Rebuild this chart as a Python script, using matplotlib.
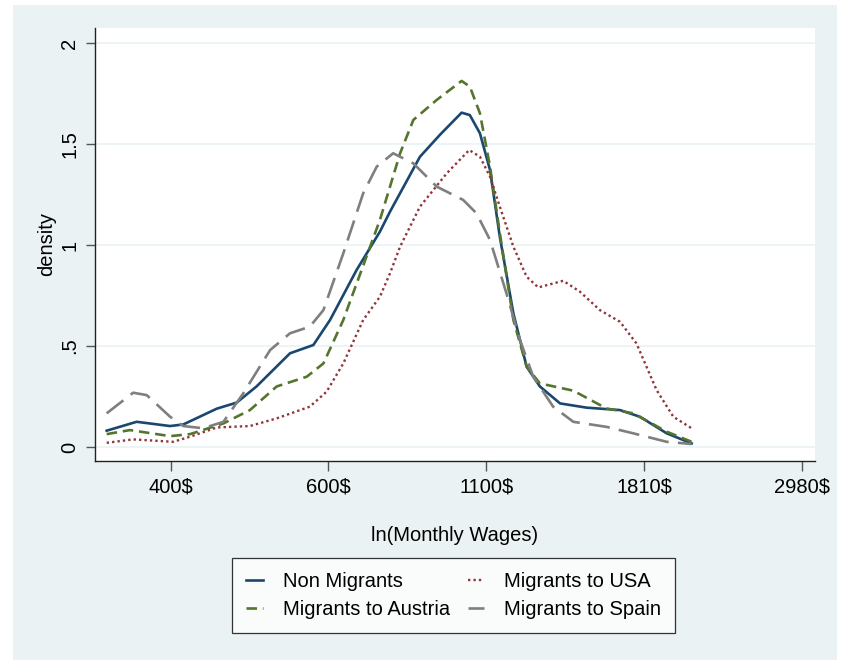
import numpy as np
import matplotlib
matplotlib.use("Agg")
import matplotlib.pyplot as plt
from matplotlib.patches import Rectangle

plt.rcParams['font.family'] = ['Liberation Sans', 'DejaVu Sans']

# ln(monthly wage) positions and density values
x_non = [5.797, 5.892, 5.998, 6.04, 6.146, 6.209, 6.272, 6.378, 6.452, 6.505, 6.589,
         6.663, 6.695, 6.79, 6.853, 6.922, 6.948, 6.98, 7.012, 7.043, 7.086, 7.128,
         7.17, 7.234, 7.318, 7.424, 7.487, 7.572, 7.651]
y_non = [0.081, 0.125, 0.104, 0.112, 0.19, 0.22, 0.30, 0.464, 0.505, 0.629, 0.876,
         1.066, 1.165, 1.437, 1.545, 1.655, 1.643, 1.553, 1.371, 1.041, 0.662, 0.398,
         0.30, 0.216, 0.195, 0.183, 0.15, 0.068, 0.018]

x_aut = [5.797, 5.871, 5.998, 6.061, 6.167, 6.251, 6.336, 6.431, 6.484, 6.547, 6.632,
         6.663, 6.695, 6.727, 6.769, 6.843, 6.922, 6.948, 6.98, 7.012, 7.043, 7.086,
         7.128, 7.17, 7.276, 7.381, 7.466, 7.572, 7.651]
y_aut = [0.064, 0.084, 0.054, 0.064, 0.117, 0.183, 0.30, 0.348, 0.414, 0.629, 0.992,
         1.124, 1.289, 1.454, 1.619, 1.718, 1.812, 1.784, 1.652, 1.388, 1.06, 0.629,
         0.398, 0.315, 0.279, 0.191, 0.167, 0.076, 0.026]

x_usa = [5.797, 5.881, 6.008, 6.061, 6.146, 6.251, 6.336, 6.441, 6.494, 6.547, 6.61,
         6.663, 6.695, 6.727, 6.79, 6.875, 6.946, 6.98, 7.012, 7.043, 7.086, 7.128,
         7.165, 7.244, 7.297, 7.36, 7.424, 7.476, 7.54, 7.593, 7.651]
y_usa = [0.021, 0.038, 0.026, 0.051, 0.097, 0.104, 0.142, 0.20, 0.274, 0.414, 0.629,
         0.744, 0.86, 0.992, 1.19, 1.355, 1.47, 1.437, 1.338, 1.19, 0.992, 0.843,
         0.79, 0.823, 0.769, 0.678, 0.62, 0.513, 0.282, 0.15, 0.093]

x_esp = [5.797, 5.881, 5.924, 5.998, 6.04, 6.103, 6.167, 6.23, 6.315, 6.378, 6.441,
         6.484, 6.547, 6.61, 6.653, 6.705, 6.769, 6.843, 6.927, 6.969, 7.012, 7.064,
         7.107, 7.149, 7.212, 7.276, 7.381, 7.466, 7.572, 7.651]
y_esp = [0.167, 0.269, 0.257, 0.15, 0.104, 0.093, 0.125, 0.266, 0.48, 0.563, 0.596,
         0.678, 0.959, 1.256, 1.388, 1.454, 1.404, 1.289, 1.223, 1.157, 1.025, 0.761,
         0.53, 0.348, 0.20, 0.125, 0.10, 0.068, 0.026, 0.015]

xticks = [6, 6.5, 7, 7.5, 8]
xticklabels = ['400$', '600$', '1100$', '1810$', '2980$']
yticks = [0, 0.5, 1, 1.5, 2]
yticklabels = ['0', '.5', '1', '1.5', '2']

fig = plt.figure(figsize=(8.45, 6.6), dpi=100, facecolor='white')
# stata style outer background
fig.patches.append(Rectangle((13/845, 0), 824/845, 655/660, transform=fig.transFigure,
                             facecolor='#EAF2F3', edgecolor='none', zorder=-10))
ax = fig.add_axes([95/845, 1 - 461/660, 720/845, 433/660])
ax.set_facecolor('white')

for y in yticks:
    ax.axhline(y, color='#EAF2F3', lw=1.2, zorder=0)

ax.plot(x_non, y_non, color='#1A476F', lw=1.9, label='Non Migrants')
ax.plot(x_aut, y_aut, color='#55752F', lw=1.9, linestyle=(0, (4, 2.2)), label='Migrants to Austria')
ax.plot(x_usa, y_usa, color='#90353B', lw=1.7, linestyle=(0, (1, 1.3)), label='Migrants to USA')
ax.plot(x_esp, y_esp, color='#7F7F7F', lw=1.9, linestyle=(0, (8, 3.5)), label='Migrants to Spain')

ax.set_xlim(5.76, 8.042)
ax.set_ylim(-0.069, 2.074)
ax.set_xticks(xticks)
ax.set_xticklabels(xticklabels, fontsize=14.5)
ax.set_yticks(yticks)
ax.set_yticklabels(yticklabels, fontsize=14.5, rotation=90, va='center')
ax.tick_params(axis='x', length=7, width=1, color='#555555', pad=5)
ax.tick_params(axis='y', length=6.5, width=1, color='#555555', pad=5)

for s in ['top', 'right']:
    ax.spines[s].set_visible(False)
for s in ['left', 'bottom']:
    ax.spines[s].set_color('#222222')
    ax.spines[s].set_linewidth(1)

ax.set_xlabel('ln(Monthly Wages)', fontsize=14.5)
ax.xaxis.set_label_coords(0.5, -0.15)
ax.set_ylabel('density', fontsize=14.5)
ax.yaxis.set_label_coords(-0.054, 0.5)

handles, labels = ax.get_legend_handles_labels()
leg = fig.legend(handles, labels, ncol=2,
                 loc='center', bbox_to_anchor=(0.537, 0.098), fontsize=14.5,
                 frameon=True, fancybox=False, handlelength=0.8, columnspacing=0.9,
                 handletextpad=1.0, borderpad=0.7, labelspacing=0.45, borderaxespad=0)
leg.get_frame().set_edgecolor('black')
leg.get_frame().set_linewidth(0.9)

fig.savefig('out.png', dpi=100, facecolor=fig.get_facecolor())
